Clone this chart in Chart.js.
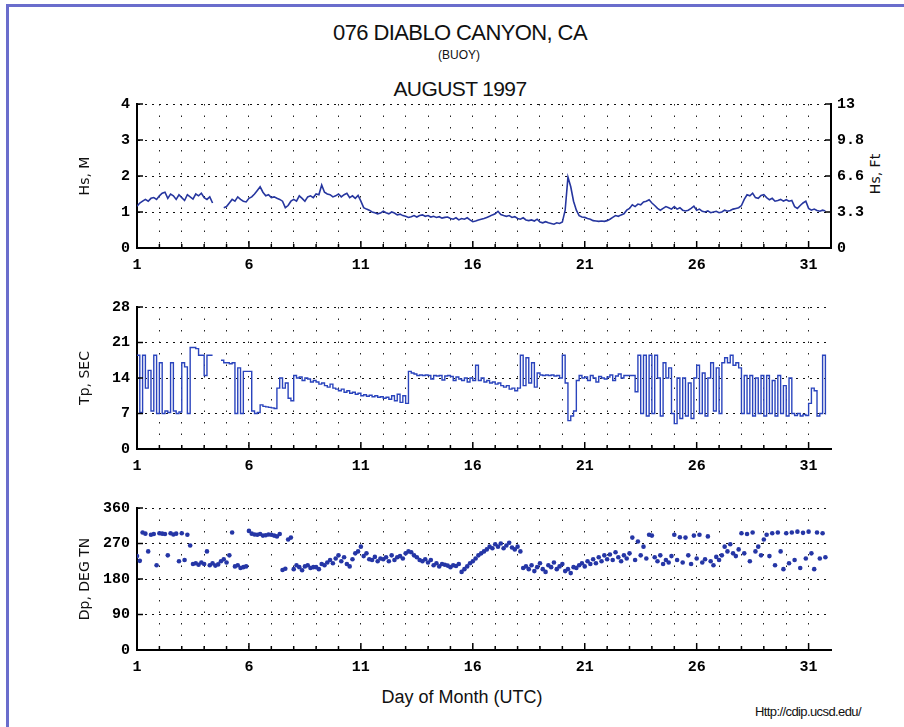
<!DOCTYPE html>
<html>
<head>
<meta charset="utf-8">
<script src="https://cdn.jsdelivr.net/npm/chart.js@4.4.0/dist/chart.umd.min.js"></script>
<style>
    body { margin: 0; background: #fff; }
    #page { position: relative; width: 904px; height: 727px; overflow: hidden; background: #fff; }
    .frame { position: absolute; left: 6px; top: 4px; width: 920px; height: 760px; border-left: 3px solid #6a6dcc; border-top: 3px solid #6a6dcc; }
    .txt { position: absolute; font-family: "Liberation Sans", Arial, sans-serif; color: #111; white-space: nowrap; line-height: 1; transform: translateX(-50%); }
    canvas { position: absolute; left: 0; }
</style>
</head>
<body>
<div id="page">
    <div class="frame"></div>
    <div class="txt" style="left:460px; top:22px; font-size:22px; letter-spacing:-0.6px;">076 DIABLO CANYON, CA</div>
    <div class="txt" style="left:459px; top:49px; font-size:12px;">(BUOY)</div>
    <div class="txt" style="left:460px; top:78px; font-size:21px; letter-spacing:-0.6px;">AUGUST 1997</div>
    <div class="txt" style="left:875px; top:174px; font-family:'DejaVu Sans',sans-serif; font-size:14px; transform:translate(-50%,-50%) rotate(-90deg);">Hs, Ft</div>
    <div class="txt" style="left:462px; top:688px; font-size:18px;">Day of Month (UTC)</div>
    <div class="txt" style="left:808px; top:705px; font-size:13px; letter-spacing:-0.6px;">Http://cdip.ucsd.edu/</div>
    <canvas id="chart-hs" width="904" height="190" style="top:88px"></canvas>
    <canvas id="chart-tp" width="904" height="188" style="top:291px"></canvas>
    <canvas id="chart-dp" width="904" height="188" style="top:492px"></canvas>
</div>

<script>
// samples every 3 hours starting at day 1 00:00 UTC
const firstDay = 1;
const stepDays = 0.125;

// --- Significant wave height, metres (null = missing data) ---
const hsM = [
    1.16, 1.25, 1.3, 1.35, 1.3, 1.38, 1.4, 1.35,
    1.45, 1.52, 1.55, 1.38, 1.5, 1.45, 1.35, 1.48,
    1.4, 1.32, 1.48, 1.42, 1.36, 1.5, 1.45, 1.52,
    1.4, 1.35, 1.42, 1.25, null, null, null, 1.12,
    1.15, 1.25, 1.35, 1.3, 1.42, 1.35, 1.3, 1.28,
    1.38, 1.42, 1.5, 1.6, 1.7, 1.55, 1.45, 1.48,
    1.4, 1.42, 1.38, 1.35, 1.3, 1.12, 1.18, 1.3,
    1.35, 1.3, 1.45, 1.38, 1.3, 1.42, 1.45, 1.4,
    1.5, 1.48, 1.75, 1.55, 1.5, 1.48, 1.42, 1.45,
    1.5, 1.42, 1.48, 1.52, 1.4, 1.45, 1.38, 1.46,
    1.3, 1.12, 1.08, 1.05, 1.0, 0.98, 0.95, 0.97,
    1.02, 0.98, 0.95, 1.0, 0.97, 0.92, 0.94, 0.9,
    0.88, 0.85, 0.87, 0.9, 0.86, 0.9, 0.92, 0.88,
    0.9, 0.86, 0.88, 0.85, 0.87, 0.83, 0.85, 0.86,
    0.82, 0.8, 0.84, 0.78, 0.82, 0.8, 0.84, 0.78,
    0.73, 0.75, 0.78, 0.8, 0.82, 0.85, 0.88, 0.92,
    0.95, 1.02, 0.93, 0.9, 0.88, 0.9, 0.85, 0.87,
    0.82, 0.8, 0.84, 0.78, 0.76, 0.78, 0.75, 0.8,
    0.72, 0.7, 0.73, 0.7, 0.68, 0.66, 0.7, 0.68,
    0.72, 1.05, 1.97, 1.7, 1.3, 1.05, 0.9, 0.86,
    0.85, 0.82, 0.8, 0.76, 0.75, 0.74, 0.75, 0.74,
    0.76, 0.8, 0.85, 0.9, 0.88, 0.92, 0.95, 1.05,
    1.1, 1.2, 1.15, 1.22, 1.2, 1.28, 1.3, 1.34,
    1.25, 1.18, 1.1, 1.05, 1.1, 1.15, 1.12, 1.08,
    1.15, 1.08, 1.12, 1.05, 1.03, 1.05, 1.1, 1.16,
    1.05, 1.08, 1.02, 1.0, 1.03, 0.98, 1.0, 1.02,
    0.98, 1.0, 1.05, 1.02, 1.04, 1.08, 1.1, 1.12,
    1.18, 1.35, 1.48, 1.45, 1.52, 1.4, 1.38, 1.46,
    1.48, 1.4, 1.34, 1.38, 1.3, 1.32, 1.35, 1.3,
    1.34, 1.3, 1.32, 1.15, 1.1, 1.18, 1.25, 1.3,
    1.1, 1.05, 1.08, 1.04, 1.02, 1.05, 1.03
];

// --- Peak period, seconds ---
const tpSec = [
    18.5, 7.2, 18.5, 12, 15.5, 7.5, 18.5, 7,
    17, 7, 7.5, 7.2, 17, 7.5, 7, 7.3,
    17, 16.2, 7, 20, 20, 19.8, 18.5, 18.5,
    14.5, 18.5, 18.5, 18.5, null, null, 17.5, 17,
    17, 16.8, 17, 7, 16, 7, 15.3, 15.3,
    15.3, 7.5, 7, 7.2, 8.7, 8.4, 8.3, 8.2,
    8.1, 8.0, 12, 14, 12, 13, 10, 9.5,
    14.5, 14, 14.2, 13.5, 14, 13.8, 13.2, 13.5,
    13.2, 12.8, 13, 12.5, 12.2, 12.8, 12, 11.8,
    11.5, 11.8, 11.2, 11.5, 11, 11.2, 10.8, 11,
    10.5, 10.7, 10.4, 10.6, 10.3, 10.5, 10.2, 10.3,
    10, 10.2, 9.8, 10.5, 9.5, 10.8, 9.2, 10.5,
    9, 15.3, 15, 14.8, 14.5, 14.6, 14.5, 14.6,
    14.5, 13.8, 14.5, 14.4, 14.5, 13.6, 14.4, 14.5,
    14.3, 13.5, 14.2, 13.8, 13.5, 14, 13.2, 14,
    13.5, 16.5, 13.5, 14, 13.2, 13.5, 13, 13.2,
    12.8, 13, 12.5, 12.2, 12.5, 11.8, 12, 11.5,
    12, 18.5, 12.5, 18, 13, 17, 12.2, 15,
    14.6, 14.5, 14.6, 14.5, 14.6, 14.4, 14.5, 14,
    18.5, 13, 5.6, 6.5, 7.5, 13.5, 14.5, 14,
    14.2, 13.5, 14.5, 14, 13.2, 14.3, 14, 13.8,
    14.2, 14.6, 13.5, 14.4, 14.8, 14, 14.5, 14.5,
    14.5, 14.5, 11.3, 18.5, 7, 18.5, 6.5, 18.5,
    7, 18.5, 14, 6.5, 17, 14, 16, 7,
    5, 14, 6, 14, 6.5, 13, 6, 14,
    16.5, 7, 15, 6.5, 14, 17, 7.5, 16,
    7, 17, 18, 17, 18.5, 16.5, 17, 16,
    7, 14.5, 7, 14.5, 6.5, 14, 7, 14.5,
    6.5, 14.5, 7, 13.5, 6.5, 14.5, 7, 12.5,
    6.5, 14, 7, 6.6, 7, 6.5, 6.8, 6.6,
    9, 12, 11.5, 6.5, 7, 18.5, 6.8
];

// --- Peak direction, degrees true north ---
const dpDeg = [
    238, 226, 298, 295, 250, 292, 294, 215,
    296, 295, 294, 240, 296, 293, 295, 225,
    296, 228, 292, 265, 218, 220, 216, 222,
    218, 250, 215, 220, 214, 217, 225, 230,
    222, 240, 298, 212, 215, 208, 210, 212,
    302, 295, 293, 292, 294, 290, 291, 293,
    292, 290, 288, 294, 203, 206, 280, 285,
    205, 215, 210, 202, 212, 215, 208, 210,
    210, 205, 218, 215, 222, 228, 220, 232,
    240, 225, 235, 218, 212, 230, 245, 250,
    262, 238, 245, 230, 228, 236, 225, 232,
    230, 235, 225, 240, 228, 235, 238, 232,
    245, 250, 248, 240, 235, 228, 225, 230,
    222, 228, 215, 220, 212, 218, 216, 214,
    210, 215, 213, 218, 198, 205, 212, 220,
    225, 232, 240, 245, 250, 255, 262, 258,
    268, 262, 270, 258, 265, 272, 260, 255,
    262, 250, 208, 212, 205, 215, 200, 210,
    220, 205, 198, 215, 210, 222, 205, 212,
    218, 200, 205, 195, 210, 208, 215, 220,
    212, 225, 218, 230, 220, 235, 225, 240,
    230, 242, 228, 248, 235, 225, 240, 232,
    245, 285, 228, 275, 240, 262, 232, 292,
    290, 235, 225, 240, 218, 228, 222, 238,
    292, 228, 286, 222, 285, 240, 218, 290,
    232, 292, 222, 230, 288, 225, 215, 236,
    228, 240, 262, 250, 268, 245, 238, 255,
    296, 245, 294, 225, 298, 250, 262, 240,
    280, 292, 238, 296, 215, 298, 250, 205,
    296, 220, 298, 228, 300, 208, 297, 232,
    300, 245, 205, 298, 232, 296, 235
];

// axis ranges and ticks
const dayMin = 1;
const dayMax = 32;
const hsTicksM = [0, 1, 2, 3, 4];
const hsTicksFtValues = [0, 3.28, 6.56, 9.84, 13.12];
const hsTicksFtLabels = ['0', '3.3', '6.6', '9.8', '13'];
const tpTicks = [0, 7, 14, 21, 28];
const dpTicks = [0, 90, 180, 270, 360];

const lineBlue = '#26369f';
const tickFont = { family: 'Liberation Mono', size: 15, weight: 'bold' };
const titleFont = { family: 'DejaVu Sans', size: 14 };

function toPoints(values) {
    return values.map((v, i) => ({ x: firstDay + i * stepDays, y: v }));
}

// short tick marks drawn inward from the axes
const innerTicks = {
    id: 'innerTicks',
    afterDatasetsDraw(chart) {
        const { ctx, chartArea, scales } = chart;
        ctx.save();
        ctx.strokeStyle = '#000';
        ctx.lineWidth = 1.5;
        const seg = (x1, y1, x2, y2) => { ctx.beginPath(); ctx.moveTo(x1, y1); ctx.lineTo(x2, y2); ctx.stroke(); };
        scales.x.ticks.forEach(t => {
            if (t.value > 31) return;
            const px = scales.x.getPixelForValue(t.value);
            const len = (t.value - 1) % 5 === 0 ? 7 : 4;
            seg(px, chartArea.bottom, px, chartArea.bottom - len);
        });
        scales.y.ticks.forEach(t => {
            const py = scales.y.getPixelForValue(t.value);
            seg(chartArea.left, py, chartArea.left + 6, py);
        });
        if (scales.y2) {
            scales.y2.ticks.forEach(t => {
                const py = scales.y2.getPixelForValue(t.value);
                seg(chartArea.right, py, chartArea.right - 6, py);
            });
        }
        ctx.restore();
    }
};

function xScale() {
    return {
        type: 'linear',
        min: dayMin,
        max: dayMax,
        afterFit: s => { s.height = 30; },
        afterBuildTicks: s => {
            const t = [];
            for (let d = dayMin; d <= dayMax; d++) t.push({ value: d });
            s.ticks = t;
        },
        ticks: {
            autoSkip: false,
            maxRotation: 0,
            padding: 8,
            color: '#000',
            font: tickFont,
            callback: v => ((v - 1) % 5 === 0 && v <= 31) ? String(v) : ''
        },
        grid: {
            drawTicks: false,
            lineWidth: 1,
            color: c => (c.tick && c.tick.value === dayMax) ? 'rgba(0,0,0,0)' : '#222'
        },
        border: { display: true, color: '#000', width: 2, dash: [1.5, 10] }
    };
}

function yScale(tickValues, title) {
    return {
        type: 'linear',
        min: tickValues[0],
        max: tickValues[tickValues.length - 1],
        afterFit: s => { s.width = 60; },
        afterBuildTicks: s => { s.ticks = tickValues.map(v => ({ value: v })); },
        ticks: { padding: 7, color: '#000', font: tickFont },
        grid: { drawTicks: false, lineWidth: 1, color: '#111' },
        border: { display: true, color: '#000', width: 2, dash: [2, 5] },
        title: { display: true, text: title, color: '#111', font: titleFont, padding: 0 }
    };
}

function baseOptions(scales, padRight) {
    return {
        responsive: false,
        animation: false,
        devicePixelRatio: 1,
        layout: { padding: { left: 77, right: padRight, top: 12, bottom: 0 } },
        plugins: { legend: { display: false }, tooltip: { enabled: false } },
        scales: scales
    };
}

// --- Hs panel ---
const hsScales = { x: xScale(), y: yScale(hsTicksM, 'Hs, M') };
hsScales.y2 = {
    type: 'linear',
    position: 'right',
    min: hsTicksFtValues[0],
    max: hsTicksFtValues[hsTicksFtValues.length - 1],
    afterFit: s => { s.width = 73; },
    afterBuildTicks: s => { s.ticks = hsTicksFtValues.map(v => ({ value: v })); },
    ticks: { padding: 6, color: '#000', font: tickFont, callback: (v, i) => hsTicksFtLabels[i] },
    grid: { drawOnChartArea: false, drawTicks: false },
    border: { display: true, color: '#000', width: 2 }
};

new Chart(document.getElementById('chart-hs').getContext('2d'), {
    type: 'line',
    data: {
        datasets: [{
            data: toPoints(hsM),
            borderColor: lineBlue,
            borderWidth: 1.6,
            pointRadius: 0,
            tension: 0,
            spanGaps: false
        }]
    },
    options: baseOptions(hsScales, 0),
    plugins: [innerTicks]
});

// --- Tp panel (period values jump between bins, so draw as steps) ---
new Chart(document.getElementById('chart-tp').getContext('2d'), {
    type: 'line',
    data: {
        datasets: [{
            data: toPoints(tpSec),
            borderColor: '#2a44bd',
            borderWidth: 1.4,
            pointRadius: 0,
            stepped: true,
            spanGaps: false
        }]
    },
    options: baseOptions({ x: xScale(), y: yScale(tpTicks, 'Tp, SEC') }, 73),
    plugins: [innerTicks]
});

// --- Dp panel ---
new Chart(document.getElementById('chart-dp').getContext('2d'), {
    type: 'scatter',
    data: {
        datasets: [{
            data: toPoints(dpDeg),
            backgroundColor: '#2536a6',
            borderWidth: 0,
            pointRadius: 2.3,
            showLine: false
        }]
    },
    options: baseOptions({ x: xScale(), y: yScale(dpTicks, 'Dp, DEG TN') }, 73),
    plugins: [innerTicks]
});
</script>
</body>
</html>
